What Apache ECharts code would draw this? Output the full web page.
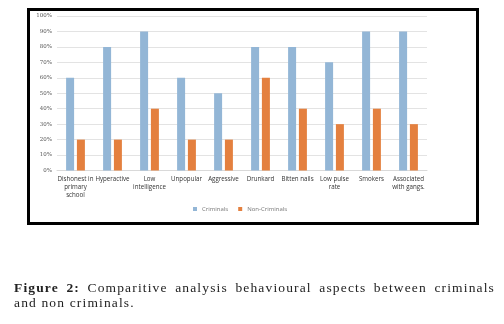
<!DOCTYPE html>
<html>
<head>
<meta charset="utf-8">
<script src="https://cdn.jsdelivr.net/npm/echarts@6/dist/echarts.min.js"></script>
<style>
  html, body { margin: 0; padding: 0; background: #fff; }
  body { width: 504px; height: 324px; position: relative; overflow: hidden; }
  #frame { position: absolute; left: 27px; top: 8px; width: 446px; height: 211px; border: 3px solid #000; }
  #chart { position: absolute; left: 0; top: 0; width: 504px; height: 324px; }
  .cap { position: absolute; left: 14px; width: 481px; font-family: "Liberation Serif", "DejaVu Serif", serif;
         font-size: 13.5px; color: #222; letter-spacing: 1.15px; white-space: nowrap; }
  #cap1 { top: 280px; text-align: justify; text-align-last: justify; }
  #cap2 { top: 295px; }
</style>
</head>
<body>
<div id="frame"></div>
<div id="chart"></div>
<div class="cap" id="cap1"><b>Figure 2:</b> Comparitive analysis behavioural aspects between criminals</div>
<div class="cap" id="cap2">and non criminals.</div>
<script>
var categories = ['Dishonest in\nprimary\nschool', 'Hyperactive', 'Low\nintelligence', 'Unpopular', 'Aggressive',
	'Drunkard', 'Bitten nails', 'Low pulse\nrate', 'Smokers', 'Associated\nwith gangs.'];
var criminals = [60, 80, 90, 60, 50, 80, 80, 70, 90, 90];
var nonCriminals = [20, 20, 40, 20, 20, 60, 40, 30, 40, 30];
var seriesNames = ['Criminals', 'Non-Criminals'];

var myChart = echarts.init(document.getElementById('chart'));

option = {
	animation: false,
	legend: {
		left: 188,
		top: 201,
		itemWidth: 4,
		itemHeight: 4,
		itemGap: 10,
		icon: 'rect',
		textStyle: {
			color: '#777',
			fontSize: 6,
			fontFamily: 'Open Sans, sans-serif'
		},
		data: seriesNames
	},
	grid: {
		left: 57,
		right: 77,
		top: 16,
		bottom: 153.5
	},
	xAxis: [{
		type: 'category',
		data: categories,
		axisTick: { show: false },
		axisLine: { lineStyle: { color: '#d9d9d9' } },
		axisLabel: {
			interval: 0,
			hideOverlap: false,
			margin: 5,
			color: '#333',
			fontSize: 6.2,
			lineHeight: 8,
			width: 60,
			overflow: 'none',
			fontFamily: 'Open Sans, sans-serif'
		}
	}],
	yAxis: [{
		type: 'value',
		min: 0,
		max: 100,
		interval: 10,
		axisTick: { show: false },
		axisLine: { show: false },
		splitLine: { lineStyle: { color: '#e3e3e3' } },
		axisLabel: {
			formatter: '{value}%',
			margin: 5,
			color: '#555',
			fontSize: 5.5,
			fontFamily: 'DejaVu Serif, serif'
		}
	}],
	series: [{
		name: seriesNames[0],
		type: 'bar',
		barWidth: 8,
		barGap: '35%',
		itemStyle: { color: '#93b6d6' },
		data: criminals
	}, {
		name: seriesNames[1],
		type: 'bar',
		barWidth: 8,
		itemStyle: { color: '#e4803f' },
		data: nonCriminals
	}]
};
myChart.setOption(option);
window.addEventListener("resize", function () {
	myChart.resize();
});
</script>
</body>
</html>
